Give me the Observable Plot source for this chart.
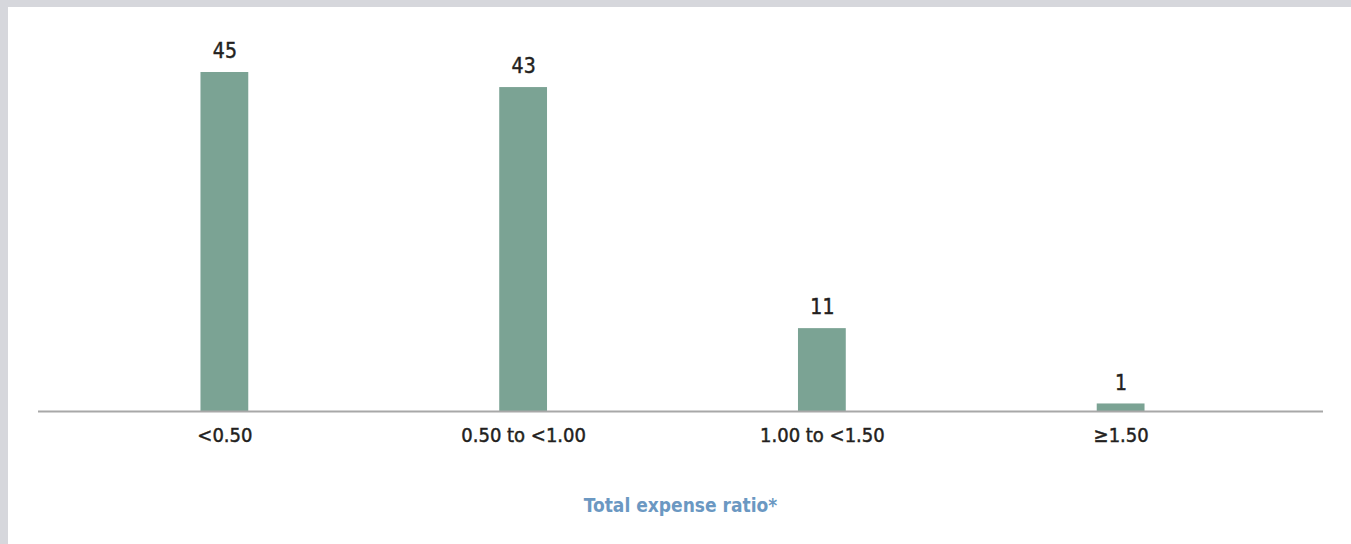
<!DOCTYPE html>
<html>
<head>
<meta charset="utf-8">
<script src="https://cdn.jsdelivr.net/npm/d3@7"></script>
<script src="https://cdn.jsdelivr.net/npm/@observablehq/plot@0.6"></script>
<style>
  html, body { margin: 0; padding: 0; background: #d6d7dc; }
  #panel { position: absolute; left: 8px; top: 7px; width: 1343px; height: 537px; background: #fff; overflow: hidden; }
  #chart svg { display: block; }
  #chart text { stroke: #231f20; stroke-width: 0.45px; }
  #xtitle { position: absolute; left: 30px; width: 1285px; top: 487px; text-align: center;
    font-family: "DejaVu Sans Condensed", sans-serif; font-size: 19px; font-weight: bold; color: #6b98c2; }
</style>
</head>
<body>
<div id="panel">
  <div id="chart"></div>
  <div id="xtitle"></div>
</div>
<script>
const categories = ["<0.50", "0.50 to <1.00", "1.00 to <1.50", "≥1.50"];
const values = [45, 43, 11, 1];
const axisTitle = "Total expense ratio*";

const data = categories.map((c, i) => ({category: c, value: values[i]}));
const font = '"DejaVu Sans Condensed", sans-serif';

const chart = Plot.plot({
  width: 1343,
  height: 450,
  marginLeft: 30,
  marginRight: 28,
  marginTop: 0,
  marginBottom: 46,
  style: {fontFamily: font, background: "transparent", color: "#231f20"},
  x: {domain: categories, range: [67, 1262], paddingInner: 0.84, paddingOuter: 0.42, round: false},
  y: {domain: [0, 45], range: [404, 65], axis: null},
  marks: [
    Plot.barY(data, {x: "category", y: "value", fill: "#7ba394"}),
    Plot.ruleY([0], {stroke: "#a8a8a8", strokeWidth: 2}),
    Plot.text(data, {x: "category", y: "value", text: d => String(d.value), dy: -21, fontSize: 21, fill: "#231f20"}),
    Plot.axisX({tickSize: 0, tickPadding: 16, fontSize: 20, label: null, fill: "#231f20"})
  ]
});
document.getElementById("chart").appendChild(chart);
document.getElementById("xtitle").textContent = axisTitle;
</script>
</body>
</html>
